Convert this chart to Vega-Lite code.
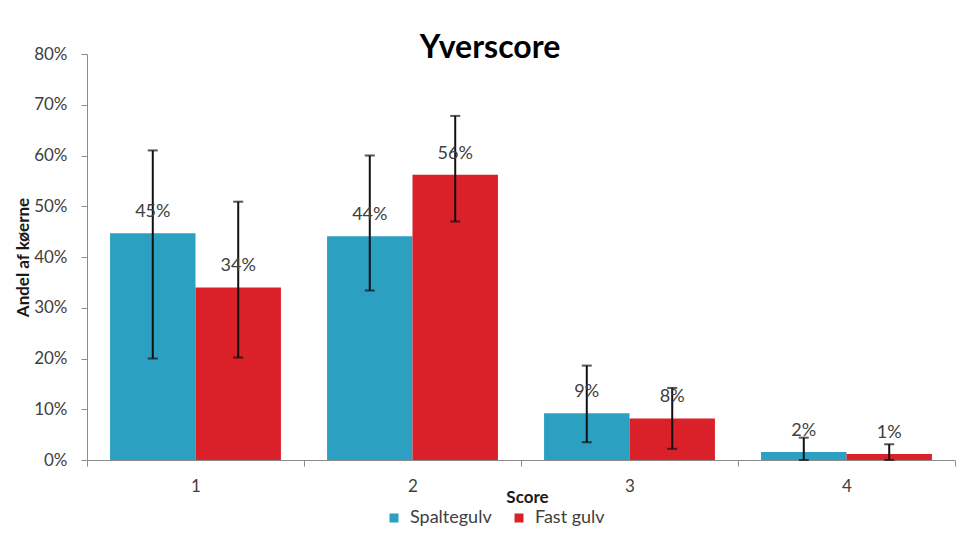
{
  "$schema": "https://vega.github.io/schema/vega-lite/v6.json",
  "autosize": {"type": "none"},
  "width": 868,
  "height": 406,
  "padding": {"left": 87, "top": 54, "right": 3, "bottom": 82},
  "background": "white",
  "config": {
    "font": "Lato",
    "view": {"stroke": null},
    "axis": {"labelFont": "Lato", "titleFont": "Lato", "labelColor": "#404040", "titleColor": "#1a1a1a", "domainColor": "#8c8c8c", "tickColor": "#8c8c8c", "grid": false}
  },
  "title": {
    "text": "Yverscore",
    "fontSize": 32,
    "fontWeight": "bold",
    "font": "Lato",
    "color": "#000000",
    "anchor": "middle",
    "dx": -31,
    "offset": -20
  },
  "data": {
    "values": [
      {"Score": "1", "Gulv": "Spaltegulv", "Andel": 0.447, "lo": 0.20, "hi": 0.61},
      {"Score": "2", "Gulv": "Spaltegulv", "Andel": 0.441, "lo": 0.334, "hi": 0.60},
      {"Score": "3", "Gulv": "Spaltegulv", "Andel": 0.092, "lo": 0.035, "hi": 0.186},
      {"Score": "4", "Gulv": "Spaltegulv", "Andel": 0.016, "lo": 0.0, "hi": 0.044},
      {"Score": "1", "Gulv": "Fast gulv", "Andel": 0.34, "lo": 0.202, "hi": 0.509},
      {"Score": "2", "Gulv": "Fast gulv", "Andel": 0.562, "lo": 0.47, "hi": 0.678},
      {"Score": "3", "Gulv": "Fast gulv", "Andel": 0.082, "lo": 0.022, "hi": 0.142},
      {"Score": "4", "Gulv": "Fast gulv", "Andel": 0.012, "lo": 0.0, "hi": 0.031}
    ]
  },
  "encoding": {
    "x": {
      "field": "Score",
      "type": "nominal",
      "scale": {"paddingInner": 0, "paddingOuter": 0},
      "axis": {
        "title": "Score",
        "titleFontSize": 17,
        "titleFontWeight": "bold",
        "titleBaseline": "middle",
        "titleY": 37,
        "titleX": 440,
        "labelAngle": 0,
        "labelFontSize": 17,
        "labelPadding": 12,
        "tickBand": "extent",
        "tickSize": 6
      }
    },
    "xOffset": {
      "field": "Gulv",
      "type": "nominal",
      "sort": ["Spaltegulv", "Fast gulv"],
      "scale": {"paddingInner": 0, "paddingOuter": 0.27}
    }
  },
  "layer": [
    {
      "mark": {"type": "bar"},
      "encoding": {
        "y": {
          "field": "Andel",
          "type": "quantitative",
          "scale": {"domain": [0, 0.8], "nice": false},
          "axis": {
            "title": "Andel af køerne",
            "titleFontSize": 17,
            "titleFontWeight": "bold",
            "titleX": -64,
            "titleBaseline": "middle",
            "format": ".0%",
            "values": [0, 0.1, 0.2, 0.3, 0.4, 0.5, 0.6, 0.7, 0.8],
            "labelFontSize": 17,
            "labelPadding": 14,
            "tickSize": 6
          }
        },
        "color": {
          "field": "Gulv",
          "type": "nominal",
          "sort": ["Spaltegulv", "Fast gulv"],
          "scale": {"domain": ["Spaltegulv", "Fast gulv"], "range": ["#2BA0C1", "#DA2029"]},
          "legend": {
            "title": null,
            "orient": "none",
            "direction": "horizontal",
            "legendX": 298,
            "legendY": 455,
            "symbolType": "square",
            "symbolSize": 81,
            "symbolStrokeWidth": 0,
            "labelFontSize": 18,
            "labelFont": "Lato",
            "labelColor": "#404040",
            "labelOffset": 7,
            "columnPadding": 18
          }
        }
      }
    },
    {
      "mark": {"type": "rule", "color": "#111111", "strokeWidth": 2},
      "encoding": {
        "y": {"field": "lo", "type": "quantitative"},
        "y2": {"field": "hi"}
      }
    },
    {
      "mark": {"type": "tick", "color": "#111111", "thickness": 2, "size": 10, "orient": "horizontal"},
      "encoding": {
        "y": {"field": "hi", "type": "quantitative"}
      }
    },
    {
      "mark": {"type": "tick", "color": "#111111", "thickness": 2, "size": 10, "orient": "horizontal"},
      "encoding": {
        "y": {"field": "lo", "type": "quantitative"}
      }
    },
    {
      "mark": {"type": "text", "fontSize": 18, "color": "#404040", "dy": -21, "font": "Lato"},
      "encoding": {
        "y": {"field": "Andel", "type": "quantitative"},
        "text": {"field": "Andel", "type": "quantitative", "format": ".0%"}
      }
    }
  ]
}
